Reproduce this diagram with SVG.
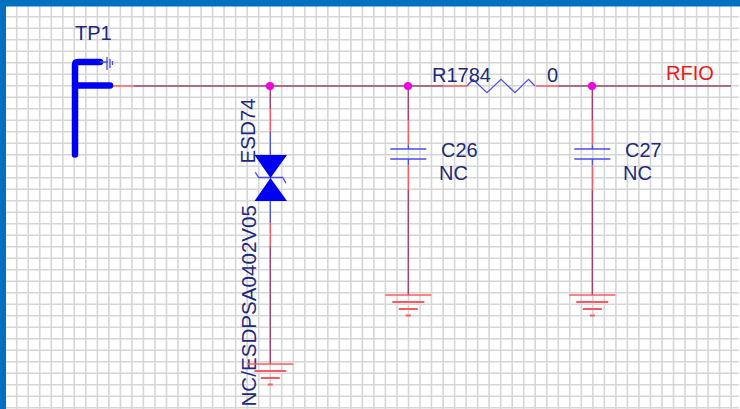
<svg xmlns="http://www.w3.org/2000/svg" width="740" height="409" viewBox="0 0 740 409">
<style>
text{font-family:"Liberation Sans",Arial,sans-serif;font-size:20px;fill:#1c2a80}
.v{font-size:20.600px}
.g{stroke:#d6d6d6;stroke-width:1.6;fill:none}
.w{stroke:#a0446e;stroke-width:1.4;fill:none}
.r{stroke:#fb5a62;stroke-width:1.4;fill:none}
.b{stroke:#4a4ef0;stroke-width:1.3;fill:none}
.t{stroke:#0000f0;stroke-width:6.500;stroke-linecap:round;stroke-linejoin:round;fill:none}
.j{fill:#f000e0}
</style>
<defs>
<g id="gnd"><path class="r" d="M-23 0H23"/><path class="r" style="stroke-width:2" d="M-16 7H16M-9.500 14H9.500M-2.500 20.500H2.500"/></g>
<g id="cap"><path class="r" d="M0 -30V-5M0 15V40"/><path class="b" d="M0 -5V-1M0 9V15M-18 -1H18M-18 9H18"/></g>
</defs>
<rect width="740" height="409" fill="#ffffff"/>
<path class="g" id="grid" transform="translate(-1.1 0)" d="M17.8 0V409M29.3 0V409M40.8 0V409M52.4 0V409M63.9 0V409M75.4 0V409M86.9 0V409M98.5 0V409M110 0V409M121.5 0V409M133 0V409M144.5 0V409M156.1 0V409M167.6 0V409M179.1 0V409M190.6 0V409M202.2 0V409M213.7 0V409M225.2 0V409M236.7 0V409M248.3 0V409M259.8 0V409M271.3 0V409M282.8 0V409M294.4 0V409M305.9 0V409M317.4 0V409M328.9 0V409M340.4 0V409M352 0V409M363.5 0V409M375 0V409M386.5 0V409M398.1 0V409M409.6 0V409M421.1 0V409M432.6 0V409M444.2 0V409M455.7 0V409M467.2 0V409M478.7 0V409M490.2 0V409M501.8 0V409M513.3 0V409M524.8 0V409M536.3 0V409M547.9 0V409M559.4 0V409M570.9 0V409M582.4 0V409M594 0V409M605.5 0V409M617 0V409M628.5 0V409M640 0V409M651.6 0V409M663.1 0V409M674.6 0V409M686.1 0V409M697.7 0V409M709.2 0V409M720.7 0V409M732.2 0V409M0 16.7H740M0 28.2H740M0 39.7H740M0 51.2H740M0 62.7H740M0 74.2H740M0 85.7H740M0 97.2H740M0 108.7H740M0 120.2H740M0 131.7H740M0 143.2H740M0 154.7H740M0 166.2H740M0 177.7H740M0 189.2H740M0 200.7H740M0 212.2H740M0 223.7H740M0 235.2H740M0 246.7H740M0 258.2H740M0 269.7H740M0 281.2H740M0 292.7H740M0 304.2H740M0 315.7H740M0 327.2H740M0 338.7H740M0 350.2H740M0 361.7H740M0 373.2H740M0 384.7H740M0 396.2H740M0 407.7H740"/>
<rect id="frame-top" x="0" y="0" width="740" height="6.500" fill="#0070c0"/>
<rect id="frame-left" x="0" y="0" width="6" height="409" fill="#0070c0"/>
<g id="connectors">
<path class="r" d="M112 86H134"/>
<path class="w" d="M134 86H443M558 86H731"/>
<path class="r" d="M443 86H467M536 86H558"/>
<path class="w" d="M270.300 86V109M270.300 246V364"/>
<path class="r" d="M270.300 109V132M270.300 223V246"/>
<path class="b" d="M270.300 132V155M270.300 200V223"/>
<path class="w" d="M408.300 86V120M408.300 190V295M592.300 86V120M592.300 190V295"/>
</g>
<g id="TP1">
<path class="t" d="M75 154.500V65Q75 62 78 62H100M75 85.500H110"/>
<path d="M100 62H108M107 57V70M110 59V68M112.500 61V65" class="b"/>
<text x="75" y="40">TP1</text>
</g>
<g id="ESD74">
<path class="b" d="M255.300 172.300L258.700 177.500H282.700L286 183.300"/>
<path fill="#0000f0" d="M254.500 155H287L270.500 178ZM254.500 201H287L270.500 178Z"/>
<text class="v" transform="translate(255 163.500) rotate(-90)">ESD74</text>
<text class="v" transform="translate(256 406.500) rotate(-90)">NC/ESDPSA0402V05</text>
</g>
<g id="GND1"><use href="#gnd" x="270.300" y="364"/></g>
<g id="C26">
<use href="#cap" x="408.300" y="150"/>
<text x="441" y="157">C26</text>
<text x="439" y="180">NC</text>
</g>
<g id="GND2"><use href="#gnd" x="408.300" y="295"/></g>
<g id="R1784">
<path class="b" d="M467 86L473 79.500L487 92.700L501 79.300L515 92.700L528.500 79.300L535 86"/>
<text x="432" y="82">R1784</text>
<text x="547" y="82">0</text>
</g>
<g id="C27">
<use href="#cap" x="592.300" y="150"/>
<text x="625" y="157">C27</text>
<text x="623" y="180">NC</text>
</g>
<g id="GND3"><use href="#gnd" x="592.300" y="295"/></g>
<g id="RFIO"><text x="666" y="80" style="fill:#f01818">RFIO</text></g>
<circle class="j" cx="270" cy="86" r="4"/>
<circle class="j" cx="408" cy="86" r="4"/>
<circle class="j" cx="592" cy="86" r="4"/>
</svg>
